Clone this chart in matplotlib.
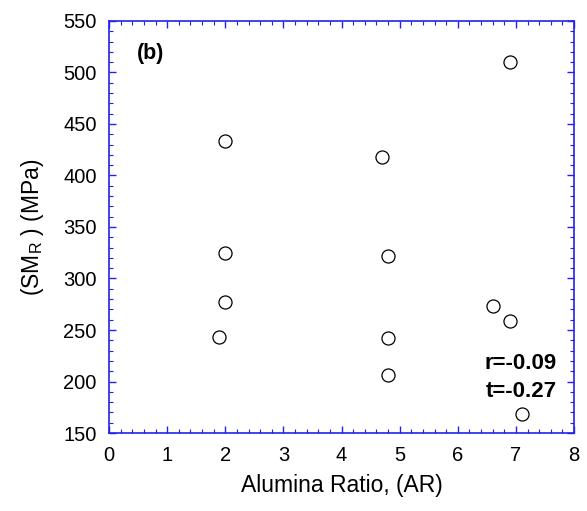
import numpy as np
from matplotlib import pyplot as plt
from matplotlib.ticker import MultipleLocator

plt.rcParams['font.family'] = ['Liberation Sans', 'DejaVu Sans']

# alumina ratio vs rupture strength
ar = [2.0, 2.0, 2.0, 1.9, 4.7, 4.8, 4.8, 4.8, 6.9, 6.6, 6.9, 7.1]
smr = [433, 325, 277, 243, 418, 322, 242, 206, 510, 273, 259, 168]
r_val = -0.09
t_val = -0.27

s = 14
blue = '#2222ee'

fig = plt.figure(figsize=(5.87, 5.11), dpi=100)
ax = fig.add_axes([0.1857, 0.1526, 0.7923, 0.8064])

ax.plot(ar, smr, 'o', markersize=9.4, markerfacecolor='none',
        markeredgecolor='black', markeredgewidth=0.9)

ax.set_xlim(0, 8)
ax.set_ylim(150, 550)
ax.xaxis.set_major_locator(MultipleLocator(1))
ax.xaxis.set_minor_locator(MultipleLocator(0.2))
ax.yaxis.set_major_locator(MultipleLocator(50))
ax.yaxis.set_minor_locator(MultipleLocator(10))

for sp in ax.spines.values():
    sp.set_color(blue)
    sp.set_linewidth(1.2)
ax.tick_params(which='both', direction='in', top=True, right=True, colors=blue,
               labelcolor='black', labelsize=s + 0.5, pad=9)
ax.tick_params(which='major', length=5, width=1)
ax.tick_params(which='minor', length=3, width=0.8)

ax.set_xlabel('Alumina Ratio, (AR)', size=s + 2.5, labelpad=7)
ax.set_ylabel('(SM$_\\mathregular{R}$ ) (MPa)', size=s + 2.5, labelpad=12)

ax.text(0.06, 0.92, '(b)', transform=ax.transAxes, size=s + 1.5, fontweight='bold',
        va='center', ha='left')
ax.text(0.963, 0.168, 'r=%.2f' % r_val, transform=ax.transAxes, size=s + 2,
        fontweight='bold', ha='right', va='center')
ax.text(0.963, 0.1, 't=%.2f' % t_val, transform=ax.transAxes, size=s + 2,
        fontweight='bold', ha='right', va='center')

plt.savefig('out.png', dpi=100)
